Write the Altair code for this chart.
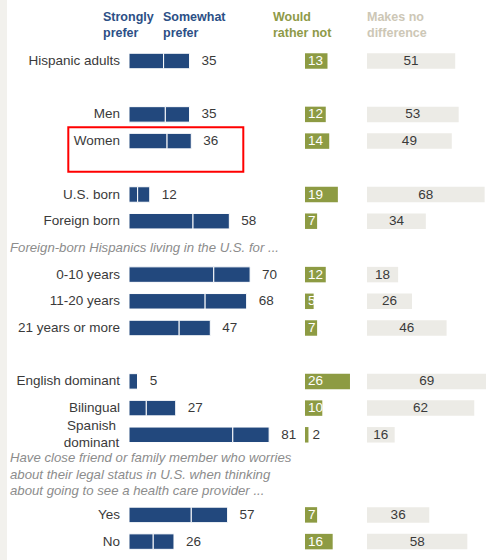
import altair as alt
import pandas as pd

# ---- data -------------------------------------------------------------
LABELS = ["Hispanic adults", "Men", "Women", "U.S. born", "Foreign born",
          "0-10 years", "11-20 years", "21 years or more",
          "English dominant", "Bilingual", "Spanish\ndominant", "Yes", "No"]
STRONGLY = [20, 21, 22, 5, 37, 49, 44, 29, 5, 10, 60, 36, 14]
SOMEWHAT = [15, 14, 14, 7, 21, 21, 24, 18, 0, 17, 21, 21, 12]
TOTAL = [35, 35, 36, 12, 58, 70, 68, 47, 5, 27, 81, 57, 26]
RATHER_NOT = [13, 12, 14, 19, 7, 12, 5, 7, 26, 10, 2, 7, 16]
NO_DIFF = [51, 53, 49, 68, 34, 18, 26, 46, 69, 62, 16, 36, 58]

SUBHEADS = [
    "Foreign-born Hispanics living in the U.S. for ...",
    "Have close friend or family member who worries\nabout their legal status in U.S. when thinking\nabout going to see a health care provider ...",
]
HEADERS = ["Strongly\nprefer", "Somewhat\nprefer", "Would\nrather not", "Makes no\ndifference"]
HEADER_COLORS = ["#2c4f86", "#2c4f86", "#8e9a48", "#cdc7b6"]

# row slots (gaps are None, subheadings take slots too)
SLOTS = ["Hispanic adults", None, "Men", "Women", None, "U.S. born", "Foreign born",
         "SUB0", "0-10 years", "11-20 years", "21 years or more", None,
         "English dominant", "Bilingual", "Spanish\ndominant", "SUB1", "SUB1", "Yes", "No"]

# ---- layout -----------------------------------------------------------
W, H = 486, 560
PX = 1.73          # pixels per percentage point
X0 = 129           # pixel of blue zero
STEP = 26.7        # pixels per row slot
Y0 = 61            # pixel of first row
SUB_LH = 16.5      # subheading line height


def ux(px):
    return (px - X0) / PX


def uy(py):
    return (py - Y0) / STEP


G0 = ux(305)
N0 = ux(367)
BLUE = "#22487d"
GREEN = "#8d9b43"
GREY = "#ecebe6"
FONT = "Liberation Sans"
TXT = "#3a3a3a"

xs = alt.Scale(domain=[ux(0), ux(W)], nice=False, zero=False)
ys = alt.Scale(domain=[uy(0), uy(H)], nice=False, zero=False, reverse=True)

df = pd.DataFrame({
    "label": LABELS,
    "strongly": STRONGLY,
    "somewhat": SOMEWHAT,
    "total": TOTAL,
    "rather": RATHER_NOT,
    "nodiff": NO_DIFF,
})
df["pos"] = [SLOTS.index(l) for l in LABELS]
df["zero"] = 0.0


def sub_pos(k, text):
    idx = [i for i, s in enumerate(SLOTS) if s == f"SUB{k}"]
    centre = sum(idx) / len(idx)
    n = text.count("\n") + 1
    # Vega draws the first line at the anchor: shift up so the block is centred
    return centre - (n - 1) / 2 * SUB_LH / STEP


sub_df = pd.DataFrame({
    "text": SUBHEADS,
    "pos": [sub_pos(k, t) for k, t in enumerate(SUBHEADS)],
    "zero": 0.0,
})

hdr_df = pd.DataFrame({
    "text": HEADERS,
    "x": [ux(103), ux(163), ux(273), ux(367)],
    "y": [uy(17)] * 4,
    "color": HEADER_COLORS,
})


def X(f, **kw):
    return alt.X(f, type="quantitative", scale=xs, axis=None, **kw)


def Y(f, **kw):
    return alt.Y(f, type="quantitative", scale=ys, axis=None, **kw)


base = alt.Chart(df).transform_calculate(
    y0="datum.pos - 0.29",
    y1="datum.pos + 0.29",
    g0=str(G0),
    g1=f"{G0} + datum.rather",
    n0=str(N0),
    n1=f"{N0} + datum.nodiff",
    nmid=f"{N0} + datum.nodiff / 2",
)

stripe = alt.Chart(pd.DataFrame({"a": [0]})).mark_rect(color="#f2f1ed").encode(
    x=alt.value(0), x2=alt.value(7), y=alt.value(0), y2=alt.value(H)
)

blue1 = base.mark_rect(color=BLUE, stroke="white", strokeWidth=1).encode(
    x=X("zero"), x2="strongly:Q", y=Y("y0"), y2="y1:Q"
)
blue2 = base.mark_rect(color=BLUE, stroke="white", strokeWidth=1).encode(
    x=X("strongly"), x2="total:Q", y=Y("y0"), y2="y1:Q"
)
green = base.mark_rect(color=GREEN).encode(
    x=X("g0"), x2="g1:Q", y=Y("y0"), y2="y1:Q"
)
grey = base.mark_rect(color=GREY).encode(
    x=X("n0"), x2="n1:Q", y=Y("y0"), y2="y1:Q"
)

row_lab = base.transform_filter("indexof(datum.label, '\\n') < 0").mark_text(
    align="right", baseline="middle", dx=-9, font=FONT, fontSize=13.5, color=TXT
).encode(x=X("zero"), y=Y("pos"), text="label:N")

row_lab2 = base.transform_filter("indexof(datum.label, '\\n') >= 0").mark_text(
    align="center", baseline="middle", dx=-37.5, dy=-8.5, font=FONT, fontSize=13.5,
    color=TXT, lineBreak="\n", lineHeight=17
).encode(x=X("zero"), y=Y("pos"), text="label:N")

blue_val = base.mark_text(
    align="left", baseline="middle", dx=12, font=FONT, fontSize=13.5, color=TXT
).encode(x=X("total"), y=Y("pos"), text="total:Q")

green_val = base.transform_filter("datum.rather >= 4").mark_text(
    align="left", baseline="middle", dx=3, font=FONT, fontSize=13.5, color="white"
).encode(x=X("g0"), y=Y("pos"), text="rather:Q")

green_val2 = base.transform_filter("datum.rather < 4").mark_text(
    align="left", baseline="middle", dx=4, font=FONT, fontSize=13.5, color=TXT
).encode(x=X("g1"), y=Y("pos"), text="rather:Q")

grey_val = base.mark_text(
    align="center", baseline="middle", font=FONT, fontSize=13.5, color=TXT
).encode(x=X("nmid"), y=Y("pos"), text="nodiff:Q")

subs = alt.Chart(sub_df).mark_text(
    align="left", baseline="middle", dx=10 - X0, font=FONT, fontSize=13.2,
    fontStyle="italic", color="#8c8c8c", lineBreak="\n", lineHeight=SUB_LH
).encode(x=X("zero"), y=Y("pos"), text="text:N")

hdrs = alt.Chart(hdr_df).mark_text(
    align="left", baseline="middle", font=FONT, fontSize=12.5, fontWeight="bold",
    lineBreak="\n", lineHeight=16
).encode(x=X("x"), y=Y("y"), text="text:N",
         color=alt.Color("color:N", scale=None))

box_df = pd.DataFrame({"x": [ux(68.3)], "x2": [ux(243.3)],
                       "y": [uy(127.3)], "y2": [uy(171.7)]})
box = alt.Chart(box_df).mark_rect(
    fill=None, fillOpacity=0, stroke="#ff0000", strokeWidth=2
).encode(x=X("x"), x2="x2:Q", y=Y("y"), y2="y2:Q")

chart = alt.layer(
    stripe, blue1, blue2, green, grey, row_lab, row_lab2, blue_val,
    green_val, green_val2, grey_val, subs, hdrs, box
).properties(
    width=W, height=H, padding=0, autosize=alt.AutoSizeParams(type="none"),
    background="white"
).configure_view(stroke=None)

chart.save("out.html", embed_options={"renderer": "svg", "actions": False})
